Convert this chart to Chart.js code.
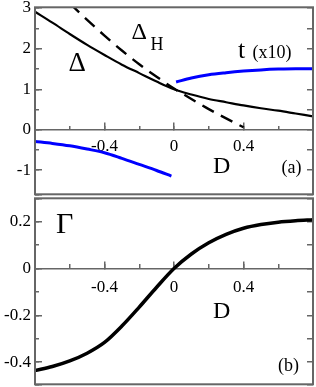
<!DOCTYPE html>
<html>
<head>
<meta charset="utf-8">
<script src="https://cdn.jsdelivr.net/npm/chart.js@4"></script>
<style>
  body { margin: 0; background: #fff; }
  canvas { position: absolute; left: 0; }
  #chartA { top: 0; }
  #chartB { top: 196px; }
</style>
</head>
<body>
<canvas id="chartA" width="316" height="196"></canvas>
<canvas id="chartB" width="316" height="191"></canvas>
<script>
//データ (a)
let dDelta = [-0.8, -0.7, -0.6, -0.5, -0.4, -0.3, -0.2, -0.1, 0, 0.1, 0.2, 0.3, 0.4, 0.5, 0.6, 0.7, 0.8];
let delta = [2.92, 2.65, 2.37, 2.1, 1.85, 1.61, 1.4, 1.19, 1.0, 0.87, 0.76, 0.68, 0.6, 0.53, 0.47, 0.4, 0.33];
let dDeltaH = [-0.6, -0.5, -0.4, -0.3, -0.2, -0.1, 0, 0.1, 0.2, 0.3, 0.4];
let deltaH = [3.13, 2.72, 2.33, 1.96, 1.62, 1.31, 1.02, 0.76, 0.51, 0.28, 0.06];
let dTLeft = [-0.8, -0.7, -0.6, -0.5, -0.4, -0.3, -0.2, -0.1, -0.015];
let tLeft = [-0.29, -0.34, -0.40, -0.48, -0.57, -0.71, -0.86, -1.01, -1.15];
let dTRight = [0.012, 0.1, 0.2, 0.3, 0.4, 0.5, 0.6, 0.7, 0.8];
let tRight = [1.18, 1.28, 1.36, 1.41, 1.45, 1.48, 1.50, 1.51, 1.51];

//データ (b)
let dGamma = [-0.8, -0.7, -0.6, -0.5, -0.4, -0.3, -0.2, -0.1, 0, 0.1, 0.2, 0.3, 0.4, 0.5, 0.6, 0.7, 0.8];
let gamma = [-0.436, -0.419, -0.395, -0.362, -0.316, -0.246, -0.165, -0.080, 0.0, 0.062, 0.110, 0.146, 0.172, 0.188, 0.198, 0.204, 0.208];

//目盛りラベル
let xTickLabels = ['-0.4', '0', '0.4'];
let yTickLabelsA = ['-1', '0', '1', '2', '3'];
let yTickLabelsB = ['-0.4', '-0.2', '0', '0.2'];

let serif = '"Liberation Serif", "DejaVu Serif", serif';
let gray = '#666';

function toPoints(xs, ys) {
  return xs.map(function (x, i) { return { x: x, y: ys[i] }; });
}

function labelFrom(list) {
  return function (v) {
    let s = String(Math.round(v * 10) / 10);
    return list.includes(s) ? s : '';
  };
}

//軸の幅を固定して余白をなくす
function fixSize(w) {
  return function (s) {
    if (w !== null) s.width = w;
    s.paddingLeft = 0;
    s.paddingRight = 0;
    s.paddingTop = 0;
    s.paddingBottom = 0;
  };
}

//枠と文字
function framePlugin(items) {
  return {
    id: 'frameText',
    afterDraw: function (chart) {
      let ctx = chart.ctx;
      let a = chart.chartArea;
      ctx.save();
      ctx.strokeStyle = gray;
      ctx.lineWidth = 2;
      ctx.strokeRect(a.left, a.top, a.right - a.left, a.bottom - a.top);
      ctx.fillStyle = '#000';
      ctx.textAlign = 'left';
      ctx.textBaseline = 'alphabetic';
      items.forEach(function (t) {
        ctx.font = t.size + 'px ' + serif;
        ctx.fillText(t.text, t.x, t.y);
      });
      ctx.restore();
    }
  };
}

//目盛りだけの軸
function tickAxis(axis, min, max, step, pos, len) {
  return {
    type: 'linear', min: min, max: max, position: pos, axis: axis,
    afterFit: fixSize(null),
    ticks: { stepSize: step, autoSkip: false, maxRotation: 0, font: { size: 6 }, callback: function () { return ''; } },
    grid: { drawOnChartArea: false, tickLength: len, color: gray, lineWidth: 1.5 },
    border: { display: false }
  };
}

//軸の設定
function makeScales(yMin, yMax, yStep, yMinor, yLabels, xPad) {
  let tickFont = { family: serif, size: 17 };
  return {
    x: {
      type: 'linear', min: -0.8, max: 0.8, position: { y: 0 },
      afterFit: fixSize(null),
      ticks: { stepSize: 0.4, autoSkip: false, maxRotation: 0, padding: xPad, color: '#000', font: tickFont, callback: labelFrom(xTickLabels) },
      grid: { drawOnChartArea: false, tickLength: -8, color: gray, lineWidth: 1.5 },
      border: { display: true, color: gray, width: 1.5 }
    },
    xm: tickAxis('x', -0.8, 0.8, 0.2, { y: 0 }, -4),
    y: {
      type: 'linear', min: yMin, max: yMax, position: 'left',
      afterFit: fixSize(35),
      ticks: { stepSize: yStep, autoSkip: false, padding: 4, color: '#000', font: tickFont, callback: labelFrom(yLabels) },
      grid: { drawOnChartArea: false, drawTicks: false },
      border: { display: false }
    },
    yl: tickAxis('y', yMin, yMax, yStep, { x: -0.8 }, -7),
    ylm: tickAxis('y', yMin, yMax, yMinor, { x: -0.8 }, -4),
    yr: tickAxis('y', yMin, yMax, yMinor, { x: 0.8 }, 6)
  };
}

function lineSet(xs, ys, color, width, dash) {
  return {
    data: toPoints(xs, ys),
    showLine: true,
    borderColor: color,
    borderWidth: width,
    borderDash: dash || [],
    pointRadius: 0,
    cubicInterpolationMode: 'monotone'
  };
}

// グラフ (a)
let chartA = new Chart(document.getElementById('chartA'), {
  type: 'scatter',
  data: {
    datasets: [
      lineSet(dDelta, delta, '#000', 2.2),
      lineSet(dDeltaH, deltaH, '#000', 2.4, [13, 8]),
      lineSet(dTLeft, tLeft, '#0000ff', 3),
      lineSet(dTRight, tRight, '#0000ff', 3)
    ]
  },
  options: {
    responsive: false,
    animation: false,
    layout: { autoPadding: false, padding: { top: 7.3, bottom: 1.7, left: 0, right: 3 } },
    plugins: { legend: { display: false }, tooltip: { enabled: false } },
    scales: makeScales(-1.6, 3.03, 1, 0.5, yTickLabelsA, 15)
  },
  plugins: [framePlugin([
    { text: 'Δ', x: 68.5, y: 71, size: 27 },
    { text: 'Δ', x: 131.5, y: 39, size: 24 },
    { text: 'H', x: 150.5, y: 50, size: 18 },
    { text: 't', x: 238, y: 58, size: 26 },
    { text: '(x10)', x: 252.5, y: 58, size: 18 },
    { text: 'D', x: 213, y: 173, size: 24 },
    { text: '(a)', x: 281.5, y: 173, size: 18 }
  ])]
});

// グラフ (b)
let chartB = new Chart(document.getElementById('chartB'), {
  type: 'scatter',
  data: {
    datasets: [
      lineSet(dGamma, gamma, '#000', 3.5)
    ]
  },
  options: {
    responsive: false,
    animation: false,
    layout: { autoPadding: false, padding: { top: 2.3, bottom: 2.7, left: 0, right: 3 } },
    plugins: { legend: { display: false }, tooltip: { enabled: false } },
    scales: makeScales(-0.495, 0.3, 0.2, 0.1, yTickLabelsB, 17)
  },
  plugins: [framePlugin([
    { text: 'Γ', x: 56, y: 37.3, size: 30 },
    { text: 'D', x: 213, y: 122, size: 24 },
    { text: '(b)', x: 278, y: 175, size: 18 }
  ])]
});
</script>
</body>
</html>
